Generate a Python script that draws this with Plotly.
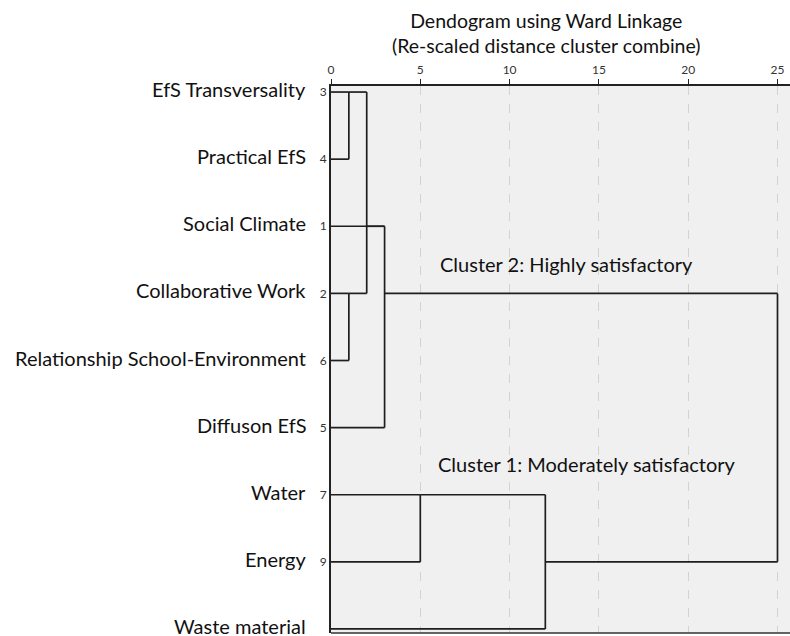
import plotly.graph_objects as go

# Leaves in dendrogram order (top to bottom)
labels = ["EfS Transversality", "Practical EfS", "Social Climate", "Collaborative Work",
          "Relationship School-Environment", "Diffuson EfS", "Water", "Energy", "Waste material"]
case_ids = [3, 4, 1, 2, 6, 5, 7, 9, 8]

# Merge table (re-scaled distance); anchor = case whose row carries the joined cluster
merge_name = ["A", "B", "C", "D", "E", "F", "G", "H"]
merge_a = ["3", "2", "A", "C", "D", "7", "F", "E"]
merge_b = ["4", "6", "B", "1", "5", "9", "8", "G"]
merge_height = [1, 1, 2, 3, 3, 5, 12, 25]
merge_anchor = [3, 2, 1, 1, 2, 7, 9, None]

x_ticks = [0, 5, 10, 15, 20, 25]

pos = {str(c): i for i, c in enumerate(case_ids)}
hgt = {str(c): 0 for c in case_ids}
xs, ys = [], []
for name, a, b, h, anc in zip(merge_name, merge_a, merge_b, merge_height, merge_anchor):
    for ch in (a, b):
        xs += [hgt[ch], h, None]
        ys += [pos[ch], pos[ch], None]
    xs += [h, h, None]
    ys += [pos[a], pos[b], None]
    if anc is not None:
        pos[name] = pos[str(anc)]
    hgt[name] = h

fig = go.Figure()
fig.add_trace(go.Scatter(x=xs, y=ys, mode="lines",
                         line=dict(color="#1e1e1e", width=1.7),
                         hoverinfo="skip", showlegend=False))

FONT = "Lato"
annotations = []
for i, lab in enumerate(labels):
    annotations.append(dict(x=0, y=i, xref="x", yref="y", text=lab, showarrow=False,
                            xanchor="right", yanchor="middle", xshift=-23, yshift=3,
                            font=dict(family=FONT, size=20, color="#111")))
annotations.append(dict(x=0.469, y=1.097, xref="paper", yref="paper",
                        text="Dendogram using Ward Linkage<br>(Re-scaled distance cluster combine)",
                        showarrow=False, xanchor="center", yanchor="middle",
                        font=dict(family=FONT, size=19.5, color="#111")))
annotations.append(dict(x=6.0, y=2.56, xref="x", yref="y", text="Cluster 2: Highly satisfactory",
                        showarrow=False, xanchor="left", yanchor="middle",
                        font=dict(family=FONT, size=20, color="#111")))
annotations.append(dict(x=5.88, y=5.54, xref="x", yref="y", text="Cluster 1: Moderately satisfactory",
                        showarrow=False, xanchor="left", yanchor="middle",
                        font=dict(family=FONT, size=20, color="#111")))

fig.update_layout(
    width=790, height=636,
    margin=dict(l=331, r=0, t=86, b=3),
    paper_bgcolor="white", plot_bgcolor="#f0f0f0",
    annotations=annotations,
    xaxis=dict(side="top", range=[0, 25.70], tickvals=x_ticks,
               ticktext=[str(t) for t in x_ticks],
               ticks="outside", ticklen=5, tickcolor="#222", tickwidth=1,
               tickfont=dict(family=FONT, size=12, color="#333"),
               showline=True, linecolor="#222", linewidth=1.5, mirror=False,
               showgrid=True, gridcolor="#d2d2d2", griddash="dash", gridwidth=1,
               zeroline=False, fixedrange=True),
    yaxis=dict(range=[8.06, -0.09], tickvals=list(range(len(case_ids))),
               ticktext=[str(c) for c in case_ids], ticks="",
               tickfont=dict(family=FONT, size=12, color="#333"),
               showline=True, linecolor="#222", linewidth=2,
               showgrid=False, zeroline=False, fixedrange=True),
)
fig.add_shape(type="line", xref="paper", yref="paper", x0=0, x1=1, y0=0, y1=0,
              line=dict(color="#333", width=1.5))

fig.write_html("out.html", config={"displayModeBar": False},
               post_script="document.body.style.margin='0px';document.body.style.overflow='hidden';")
